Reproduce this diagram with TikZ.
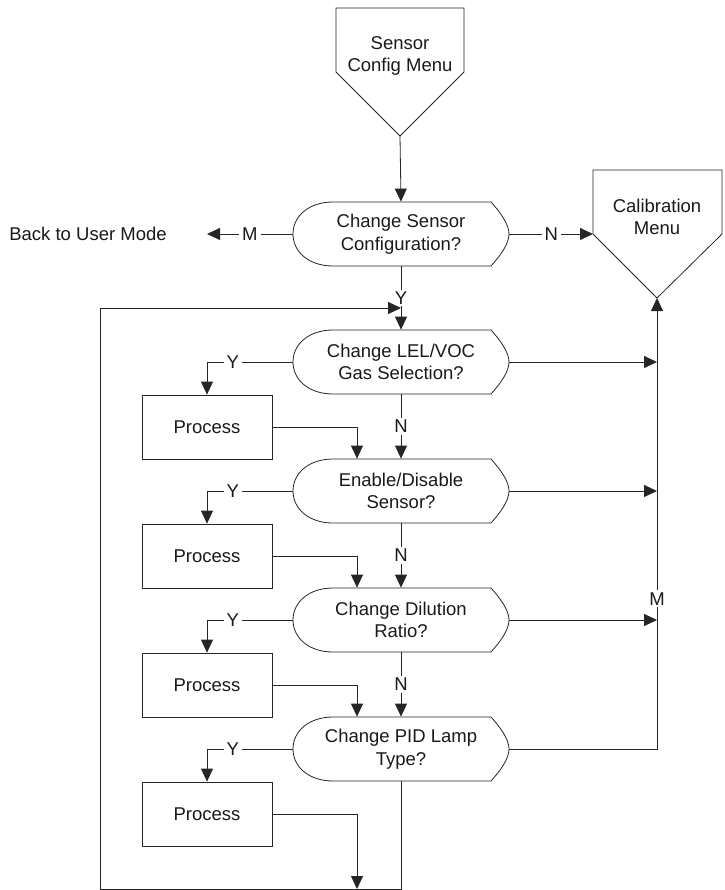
\documentclass[tikz,border=0pt]{standalone}
\usepackage{fontspec}
\setmainfont{Liberation Sans}
\usetikzlibrary{arrows.meta}
\newcommand\decshape[1]{%
  \draw[shift={(#1.center)}] (-68,-32) -- (90,-32)
    .. controls (99,-22) and (108,-10) .. (108,0)
    .. controls (108,10) and (99,22) .. (90,32) -- (-68,32)
    .. controls (-92,32) and (-108,18) .. (-108,0)
    .. controls (-108,-18) and (-92,-32) .. (-68,-32) -- cycle;}
\begin{document}
\begin{tikzpicture}[x=1pt,y=-1pt, line width=0.8pt, draw=black!85,
  every node/.style={font=\fontsize{18.5}{22.5}\selectfont, text=black!90},
  box/.style={draw, minimum width=130pt, minimum height=64pt, inner sep=0pt},
  dec/.style={minimum width=216pt, minimum height=64pt, inner sep=0pt, align=center},
  lbl/.style={fill=white, inner xsep=3pt, inner ysep=2pt},
  arr/.style={-{Triangle[length=13pt,width=12pt]}},
  ]
\useasboundingbox (0,0) rectangle (724,890);

% off-page connectors
\node[align=center] (scm) at (400,56) {Sensor\\Config Menu};
\draw (336,8) -- (464,8) -- (464,72) -- (400,136) -- (336,72) -- cycle;
\coordinate (scmtip) at (400,136);

\node[align=center] (cal) at (657,217) {Calibration\\Menu};
\draw (593,170) -- (722,170) -- (722,234) -- (657,298) -- (593,234) -- cycle;
\coordinate (calw) at (593,234);
\coordinate (caltip) at (657,298);

% decisions
\node[dec] (d1) at (401,234) {Change Sensor\\Configuration?};
\node[dec] (d2) at (401,362) {Change LEL/VOC\\Gas Selection?};
\node[dec] (d3) at (401,491) {Enable/Disable\\Sensor?};
\node[dec] (d4) at (401,620) {Change Dilution\\Ratio?};
\node[dec] (d5) at (401,749) {Change PID Lamp\\Type?};
\decshape{d1}\decshape{d2}\decshape{d3}\decshape{d4}\decshape{d5}

% processes
\node[box] (p1) at (207,427) {Process};
\node[box] (p2) at (207,556) {Process};
\node[box] (p3) at (207,685) {Process};
\node[box] (p4) at (207,814) {Process};

\node (back) at (88,234) {Back to User Mode};
\coordinate (backtip) at (207,234);

% connectors
\draw[arr] (scmtip) -- (d1.north);
\draw[arr] (d1.west) -- node[lbl]{M} (backtip);
\draw[arr] (d1.east) -- node[lbl]{N} (calw);
\draw[arr] (d1.south) -- node[lbl]{Y} (d2.north);

\draw[arr] (d2.south) -- node[lbl]{N} (d3.north);
\draw[arr] (d3.south) -- node[lbl]{N} (d4.north);
\draw[arr] (d4.south) -- node[lbl]{N} (d5.north);

\draw[arr] (d2.west) -| node[lbl,pos=0.35]{Y} (p1.north);
\draw[arr] (d3.west) -| node[lbl,pos=0.35]{Y} (p2.north);
\draw[arr] (d4.west) -| node[lbl,pos=0.35]{Y} (p3.north);
\draw[arr] (d5.west) -| node[lbl,pos=0.35]{Y} (p4.north);

\coordinate (loopb) at (401,889);
\coordinate (loopl) at (100,889);
\coordinate (loopt) at (100,308);
\draw[arr] (d5.south) -- (loopb) -- (loopl) -- (loopt) -- (loopt -| d2.north);

\draw[arr] (p1.east) -| ([xshift=-44pt]d3.north);
\draw[arr] (p2.east) -| ([xshift=-44pt]d4.north);
\draw[arr] (p3.east) -| ([xshift=-44pt]d5.north);
\draw[arr] (p4.east) -| ([xshift=-44pt]loopb);

\coordinate (bus5) at (657,749);
\draw[arr] (d5.east) -- (bus5) -- node[lbl,pos=0.333]{M} (caltip);
\draw[arr] (d2.east) -- (d2.east -| caltip);
\draw[arr] (d3.east) -- (d3.east -| caltip);
\draw[arr] (d4.east) -- (d4.east -| caltip);
\end{tikzpicture}
\end{document}
